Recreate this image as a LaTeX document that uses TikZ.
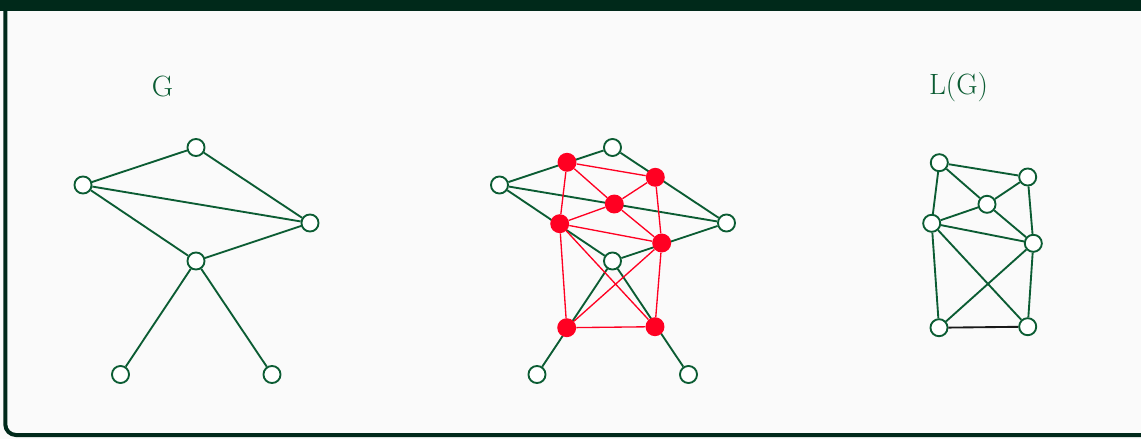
\documentclass[tikz,border=0pt]{standalone}
\definecolor{framegreen}{HTML}{00291A}
\definecolor{edgegreen}{HTML}{0B5C33}
\definecolor{linered}{HTML}{FF0022}
\definecolor{slidebg}{HTML}{FAFAFA}
\begin{document}
\begin{tikzpicture}[x=0.75pt,y=-0.75pt,
    vertex/.style={circle,draw=edgegreen,fill=white,line width=1.4pt,minimum size=12.8pt,inner sep=0pt},
    redvertex/.style={circle,fill=linered,minimum size=14.2pt,inner sep=0pt},
    gedge/.style={edgegreen,line width=1.4pt},
    redge/.style={linered,line width=1pt},
    graphlabel/.style={text=edgegreen,font=\fontsize{22}{26}\selectfont,anchor=base}]
    \useasboundingbox (0,0) rectangle (1141,439);
    % Draw frame
    \fill[slidebg] (0,0) rectangle (1141,439);
    \begin{scope}
        \clip (0,0) rectangle (1141,439);
        \draw[framegreen,line width=3pt,rounded corners=8pt] (5.3,5) -- (5.3,435) -- (1160,435);
        \fill[framegreen] (0,0) rectangle (1141,11);
    \end{scope}

    % Draw G and its copy
    \foreach \pre/\dx in {g/0,m/416.5} {
        \foreach \v/\x/\y in {a/83/185, b/196/147.5, c/310/223, d/196/261, e/120.5/374.5, f/272/374.5}
            \node[vertex] (\pre-\v) at ({\x+\dx},\y) {};
        \foreach \u/\v in {a/b, b/c, a/c, a/d, d/c, d/e, d/f}
            \draw[gedge] (\pre-\u) -- (\pre-\v);
    }

    % Draw line graph on top of the copy
    \foreach \v/\x/\y in {ab/567/162.3, bc/655.3/177.3, ac/614.3/204, ad/559.7/223.7, dc/661.7/243, de/566.7/327.7, df/655/326.7}
        \node[redvertex] (m-\v) at (\x,\y) {};
    \foreach \u/\v in {ab/bc, ab/ac, ab/ad, bc/ac, bc/dc, ac/ad, ac/dc, ad/dc, ad/de, ad/df, dc/de, dc/df, de/df}
        \draw[redge] (m-\u) -- (m-\v);

    % Draw L(G)
    \foreach \v/\x/\y in {ab/939.3/162.7, bc/1027.7/177, ac/987/204.3, ad/931.7/223.3, dc/1033.3/243.3, de/939/327.7, df/1027.7/326.7}
        \node[vertex] (l-\v) at (\x,\y) {};
    \foreach \u/\v in {ab/bc, ab/ac, ab/ad, bc/ac, bc/dc, ac/ad, ac/dc, ad/dc, ad/de, ad/df, dc/de, dc/df}
        \draw[gedge] (l-\u) -- (l-\v);
    \draw[gedge,black!90] (l-de) -- (l-df);

    % Labels
    \node[graphlabel] (g-label) at (162.5,96) {G};
    \node[graphlabel] (lg-label) at (958.5,94) {L(G)};
\end{tikzpicture}
\end{document}
